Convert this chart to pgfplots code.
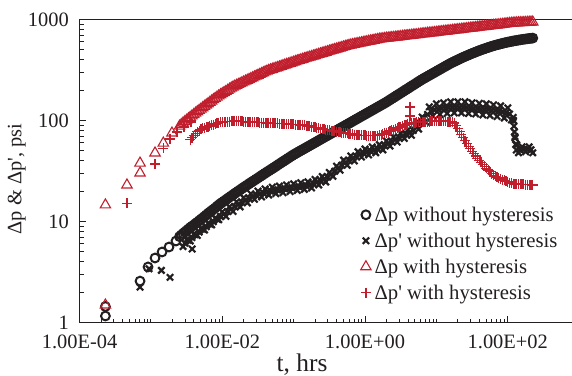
\documentclass[border=0pt]{standalone}
\usepackage{fontspec}
\setmainfont{Liberation Serif}
\usepackage{pgfplots}
\usepackage{pgfplotstable}
\pgfplotsset{compat=1.18}

\definecolor{ink}{RGB}{35,31,32}
\definecolor{hyst}{RGB}{192,30,45}

% t [hrs], a = dp without hysteresis, b = dp' without hysteresis,
% c = dp with hysteresis, d = dp' with hysteresis  (all in psi)
\pgfplotstableread{
t a b c d
2.512e-3 7.08 nan 87.9 nan
2.818e-3 7.59 5.65 94.4 nan
3.162e-3 8.13 6.61 100.7 nan
3.548e-3 8.71 6.41 107.4 64.6
3.981e-3 9.23 7.50 114.6 70.8
4.467e-3 9.84 7.28 122.2 77.3
5.012e-3 10.5 8.51 129.7 81.7
5.623e-3 11.2 8.24 138.0 85.1
6.310e-3 12.0 9.57 146.6 87.1
7.079e-3 12.8 9.25 156.0 89.5
7.943e-3 13.6 10.74 165.6 92.5
8.913e-3 14.6 10.40 175.4 95.5
1.000e-2 15.5 12.47 184.5 96.8
1.122e-2 16.4 11.25 194.1 97.3
1.259e-2 17.4 14.0 204.2 97.7
1.413e-2 18.4 12.6 214.8 98.4
1.585e-2 19.5 15.7 223.4 98.9
1.778e-2 20.6 13.96 231.7 98.4
1.995e-2 21.8 17.2 241.0 97.7
2.239e-2 23.0 15.3 250.0 97.0
2.512e-2 24.3 18.8 260.0 96.6
2.818e-2 25.6 16.6 270.4 96.2
3.162e-2 27.0 20.0 280.5 95.7
3.548e-2 28.5 17.5 291.7 95.3
3.981e-2 30.1 21.0 302.7 94.8
4.467e-2 31.7 18.3 313.3 94.4
5.012e-2 33.4 21.9 321.4 94.2
5.623e-2 35.2 18.9 330.4 93.8
6.310e-2 37.2 22.4 339.6 93.3
7.079e-2 39.2 19.3 349.1 92.9
7.943e-2 41.3 23.0 358.9 92.3
8.913e-2 43.6 19.8 368.1 91.8
0.1000 45.9 23.6 378.4 91.4
0.1122 48.1 20.3 389.0 91.0
0.1259 50.4 24.2 398.9 90.4
0.1413 52.7 20.8 409.3 89.7
0.1585 55.2 24.7 419.8 88.3
0.1778 57.8 21.5 429.5 86.7
0.1995 60.5 26.1 440.6 85.3
0.2239 63.4 23.0 451.9 83.9
0.2512 66.4 27.9 463.4 82.4
0.2818 69.5 24.6 474.2 81.1
0.3162 72.8 30.6 486.4 79.8
0.3548 76.2 28.0 498.9 78.7
0.3981 79.8 35.3 510.5 77.6
0.4467 83.6 32.2 522.4 76.6
0.5012 87.5 40.5 535.8 75.5
0.5623 91.6 36.1 548.3 74.5
0.6310 95.9 44.6 559.8 73.5
0.7079 100.5 39.8 568.9 72.4
0.7943 105.2 49.1 578.1 71.6
0.8913 110.2 43.4 587.5 71.3
1.000 115.3 52.2 598.4 71.1
1.122 120.8 45.6 608.1 70.8
1.259 126.5 54.8 618.0 70.6
1.413 132.4 47.9 628.1 70.5
1.585 138.7 57.7 638.3 71.1
1.778 145.2 51.2 645.7 73.5
1.995 152.1 62.8 653.1 76.0
2.239 160.3 55.8 659.2 78.7
2.512 168.7 68.7 665.3 81.3
2.818 177.8 61.1 671.4 84.1
3.162 187.1 75.0 677.6 86.9
3.548 197.2 66.4 685.5 89.7
3.981 207.5 80.9 691.8 92.7
4.467 218.8 71.4 698.2 94.8
5.012 230.1 89.1 704.7 95.5
5.623 242.7 82.2 711.2 96.4
6.310 255.3 108.4 719.4 96.8
7.079 267.3 96.6 726.1 97.3
7.943 279.9 136.5 732.8 97.7
8.913 293.1 110.9 739.6 97.9
10.00 306.9 146.2 746.4 98.4
11.22 321.4 114.8 755.1 98.9
12.59 336.5 149.6 762.1 98.4
14.13 352.4 117.5 769.1 97.7
15.85 369.0 153.1 776.2 97.0
17.78 383.7 118.9 785.2 94.4
19.95 399.0 153.1 792.5 83.2
22.39 415.0 118.9 799.8 72.4
25.12 430.5 153.1 807.2 63.1
28.18 445.7 117.5 816.6 55.7
31.62 461.4 149.6 824.2 49.3
35.48 476.4 116.1 831.8 44.5
39.81 492.0 147.9 841.4 40.3
44.67 507.0 113.5 849.2 36.5
50.12 521.2 146.2 857.0 33.7
56.23 535.8 112.2 865.0 31.0
63.10 549.5 142.9 875.0 28.7
70.79 562.3 109.6 883.1 27.5
79.43 574.1 139.6 891.3 26.4
89.13 586.1 105.9 899.5 25.5
100.0 597.0 133.4 909.9 24.7
112.2 606.7 101.2 918.3 23.9
125.9 616.6 69.2 924.7 23.5
141.3 625.2 47.9 929.0 23.4
158.5 633.9 54.9 931.1 23.3
177.8 641.2 49.0 935.4 23.2
199.5 648.6 54.9 939.7 23.1
223.9 654.6 47.9 944.1 23.0
}\main

% the time steps that fall between those above
\pgfplotstableread{
t a b c d
2.661e-3 7.34 nan 91.15 nan
2.985e-3 7.86 6.11 97.55 nan
3.350e-3 8.42 6.51 104.05 nan
3.758e-3 8.97 6.93 111.0 67.7
4.217e-3 9.54 7.39 118.4 74.05
4.732e-3 10.17 7.87 125.95 79.5
5.309e-3 10.85 8.37 133.85 83.4
5.957e-3 11.6 8.88 142.3 86.1
6.683e-3 12.4 9.41 151.3 88.3
7.499e-3 13.2 9.97 160.8 91.0
8.414e-3 14.1 10.57 170.5 94.0
9.441e-3 15.05 11.19 179.95 96.15
1.059e-2 15.95 11.85 189.3 97.05
1.189e-2 16.9 12.55 199.15 97.5
1.334e-2 17.9 13.27 209.5 98.05
1.496e-2 18.95 14.05 219.1 98.65
1.679e-2 20.05 14.79 227.55 98.65
1.884e-2 21.2 15.49 236.35 98.05
2.113e-2 22.4 16.22 245.5 97.35
2.371e-2 23.65 16.98 255.0 96.8
2.661e-2 24.95 17.70 265.2 96.4
2.985e-2 26.3 18.26 275.45 95.95
3.350e-2 27.75 18.71 286.1 95.5
3.758e-2 29.3 19.16 297.2 95.05
4.217e-2 30.9 19.63 308.0 94.6
4.732e-2 32.55 20.02 317.35 94.3
5.309e-2 34.3 20.32 325.9 94.0
5.957e-2 36.2 20.58 335.0 93.55
6.683e-2 38.2 20.82 344.35 93.1
7.499e-2 40.25 21.09 354.0 92.6
8.414e-2 42.45 21.35 363.5 92.05
9.441e-2 44.75 21.60 373.25 91.6
0.1059 47.0 21.85 383.7 91.2
0.1189 49.25 22.13 393.95 90.7
0.1334 51.55 22.41 404.1 90.05
0.1496 53.95 22.67 414.55 89.0
0.1679 56.5 23.05 424.65 87.5
0.1884 59.15 23.69 435.05 86.0
0.2113 61.95 24.49 446.25 84.6
0.2371 64.9 25.32 457.65 83.15
0.2661 67.95 26.21 468.8 81.75
0.2985 71.15 27.45 480.3 80.45
0.3350 74.5 29.28 492.65 79.25
0.3758 78.0 31.45 504.7 78.15
0.4217 81.7 33.73 516.45 77.1
0.4732 85.55 36.11 529.1 76.05
0.5309 89.55 38.24 542.05 75.0
0.5957 93.75 40.14 554.05 74.0
0.6683 98.2 42.13 564.35 72.95
0.7499 102.85 44.22 573.5 72.0
0.8414 107.7 46.13 582.8 71.45
0.9441 112.75 47.59 592.95 71.2
1.059 118.05 48.81 603.25 70.95
1.189 123.65 50.00 613.05 70.7
1.334 129.45 51.23 623.05 70.55
1.496 135.55 52.54 633.2 70.8
1.679 141.95 54.33 642.0 72.3
1.884 148.65 56.69 649.4 74.75
2.113 156.2 59.22 656.15 77.35
2.371 164.5 61.94 662.25 80.0
2.661 173.25 64.79 668.35 82.7
2.985 182.45 67.69 674.5 85.5
3.350 192.15 70.55 681.55 88.3
3.758 202.35 73.28 688.65 91.2
4.217 213.15 76.03 695.0 93.75
4.732 224.45 79.80 701.45 95.15
5.309 236.4 85.60 707.95 95.95
5.957 249.0 94.41 715.3 96.6
6.683 261.3 104.7 722.75 97.05
7.499 273.6 114.8 729.45 97.5
8.414 286.5 123.0 736.2 97.8
9.441 300.0 127.4 743.0 98.15
10.59 314.15 129.6 750.75 98.65
11.89 328.95 131.1 758.6 98.65
13.34 344.45 132.6 765.6 98.05
14.96 360.7 134.1 772.65 97.35
16.79 376.35 134.9 780.7 95.7
18.84 391.35 134.9 788.85 88.8
21.13 407.0 134.9 796.15 77.8
23.71 422.75 134.9 803.5 67.75
26.61 438.1 134.1 811.9 59.4
29.85 453.55 132.6 820.4 52.5
33.50 468.9 131.8 828.0 46.9
37.58 484.2 131.1 836.6 42.4
42.17 499.5 129.6 845.3 38.4
47.32 514.1 128.8 853.1 35.1
53.09 528.5 128.1 861.0 32.35
59.57 542.65 126.6 870.0 29.85
66.83 555.9 125.2 879.05 28.1
74.99 568.2 123.7 887.2 26.95
84.14 580.1 121.6 895.4 25.95
94.41 591.55 118.9 904.7 25.1
105.9 601.85 116.1 914.1 24.3
118.9 611.65 107.2 921.5 23.7
133.4 620.9 57.5 926.85 23.45
149.6 629.55 51.3 930.05 23.35
167.9 637.55 51.9 933.25 23.25
188.4 644.9 51.9 937.55 23.15
211.3 651.6 51.3 941.9 23.05
}\between

\begin{document}
\begin{tikzpicture}
\path[use as bounding box] (-79.6bp,-53.5bp) rectangle (492.4bp,322.5bp);
\begin{axis}[
  at={(0,0)}, anchor=south west,
  scale only axis, width=492.4bp, height=303bp,
  xmode=log, ymode=log,
  xmin=1e-4, xmax=794, ymin=1, ymax=1000,
  axis x line=box, axis y line=left,
  axis line style={-, line width=1.2bp, draw=ink},
  xtick pos=left, ytick pos=left,
  xticklabel pos=left, yticklabel pos=left,
  tick align=inside,
  xtick={1e-4,1e-2,1,100},
  xticklabels={1.00E-04,1.00E-02,1.00E+00,1.00E+02},
  minor xtick={2e-4,3e-4,4e-4,5e-4,6e-4,7e-4,8e-4,9e-4,1e-3,
    2e-3,3e-3,4e-3,5e-3,6e-3,7e-3,8e-3,9e-3,
    2e-2,3e-2,4e-2,5e-2,6e-2,7e-2,8e-2,9e-2,0.1,
    0.2,0.3,0.4,0.5,0.6,0.7,0.8,0.9,
    2,3,4,5,6,7,8,9,10,20,30,40,50,60,70,80,90},
  ytick={1,10,100,1000},
  yticklabels={1,10,100,1000},
  minor ytick={2,3,4,5,6,7,8,9,20,30,40,50,60,70,80,90,
    200,300,400,500,600,700,800,900},
  major tick length=6.5bp, minor tick length=4bp,
  every tick/.style={draw=ink, line width=1bp},
  tick label style={font=\fontsize{20.5}{24}\selectfont, text=ink},
  xticklabel style={anchor=base, yshift=-25.5bp},
  yticklabel style={anchor=east, inner sep=0pt, xshift=-10.6bp},
  xlabel={t, hrs},
  xlabel style={at={(axis description cs:0.4517,-0.1617)}, anchor=base,
    font=\fontsize{25.5}{30}\selectfont, text=ink},
  ylabel={Δp \& Δp\textquotesingle, psi},
  ylabel style={at={(axis description cs:-0.118,0.4736)}, anchor=base,
    font=\fontsize{20.5}{24}\selectfont, text=ink},
  clip=false,
  legend image code/.code={\draw[mark repeat=2,mark phase=2,#1]
    plot coordinates {(0bp,0bp)(5bp,0bp)(10bp,0bp)};},
  legend cell align=left,
  legend style={at={(axis description cs:0.5705,0.399)}, anchor=north west,
    draw=none, fill=none, inner sep=0pt, row sep=0pt,
    font=\fontsize{20.8}{25}\selectfont, text=ink,
    nodes={inner xsep=3.5bp, inner ysep=5.05bp}},
]
% dp without hysteresis
\addplot[only marks, mark=o, mark size=4.4bp, ink,
  mark options={line width=2bp}] table[x=t, y=a] {\main};
\addlegendentry{Δp without hysteresis}
\addplot[only marks, mark=o, mark size=4.4bp, ink,
  mark options={line width=2bp}, forget plot] table[x=t, y=a] {\between};
\addplot[only marks, mark=o, mark size=4.4bp, ink,
  mark options={line width=2bp}, forget plot] coordinates {
  (2.30e-4,1.16) (2.30e-4,1.44) (7.03e-4,2.57) (9.10e-4,3.55)
  (1.14e-3,4.35) (1.43e-3,4.99) (1.79e-3,5.59) (2.24e-3,6.41)};
% dp' without hysteresis
\addplot[only marks, mark=x, mark size=4.5bp, ink,
  mark options={line width=2.2bp}] table[x=t, y=b] {\main};
\addlegendentry{Δp\textquotesingle{} without hysteresis}
\addplot[only marks, mark=x, mark size=4.5bp, ink,
  mark options={line width=2.2bp}, forget plot] table[x=t, y=b] {\between};
\addplot[only marks, mark=x, mark size=4.5bp, ink,
  mark options={line width=2.2bp}, forget plot] coordinates {
  (7.03e-4,2.24) (9.40e-4,3.40) (1.40e-3,3.28) (1.85e-3,2.80) (3.78e-3,5.34)
  (120.2,100) (122.0,88) (124.0,77) (126.5,67) (129.0,58) (131.8,51)};
% dp with hysteresis
\addplot[only marks, mark=triangle, mark size=6bp, hyst,
  mark options={line width=1.1bp}] table[x=t, y=c] {\main};
\addlegendentry{Δp with hysteresis}
\addplot[only marks, mark=triangle, mark size=6bp, hyst,
  mark options={line width=1.1bp}, forget plot] table[x=t, y=c] {\between};
\addplot[only marks, mark=triangle, mark size=6bp, hyst,
  mark options={line width=1.1bp}, forget plot] coordinates {
  (2.30e-4,1.49) (2.30e-4,14.6) (4.61e-4,23.0) (7.03e-4,30.2) (7.03e-4,37.9)
  (1.14e-3,47.7) (1.49e-3,59.8) (1.97e-3,75.2)};
% dp' with hysteresis
\addplot[only marks, mark=+, mark size=5bp, hyst,
  mark options={line width=1.2bp}] table[x=t, y=d] {\main};
\addlegendentry{Δp\textquotesingle{} with hysteresis}
\addplot[only marks, mark=+, mark size=5bp, hyst,
  mark options={line width=1.2bp}, forget plot] table[x=t, y=d] {\between};
\addplot[only marks, mark=+, mark size=5bp, hyst,
  mark options={line width=1.2bp}, forget plot] coordinates {
  (4.61e-4,15.2) (1.14e-3,37.1) (1.49e-3,53.3) (1.85e-3,65.6) (2.32e-3,76.9)
  (2.90e-3,86.3) (3.64e-3,96.6) (4.27,135.8) (4.27,110.6)};
\end{axis}
\end{tikzpicture}
\end{document}
